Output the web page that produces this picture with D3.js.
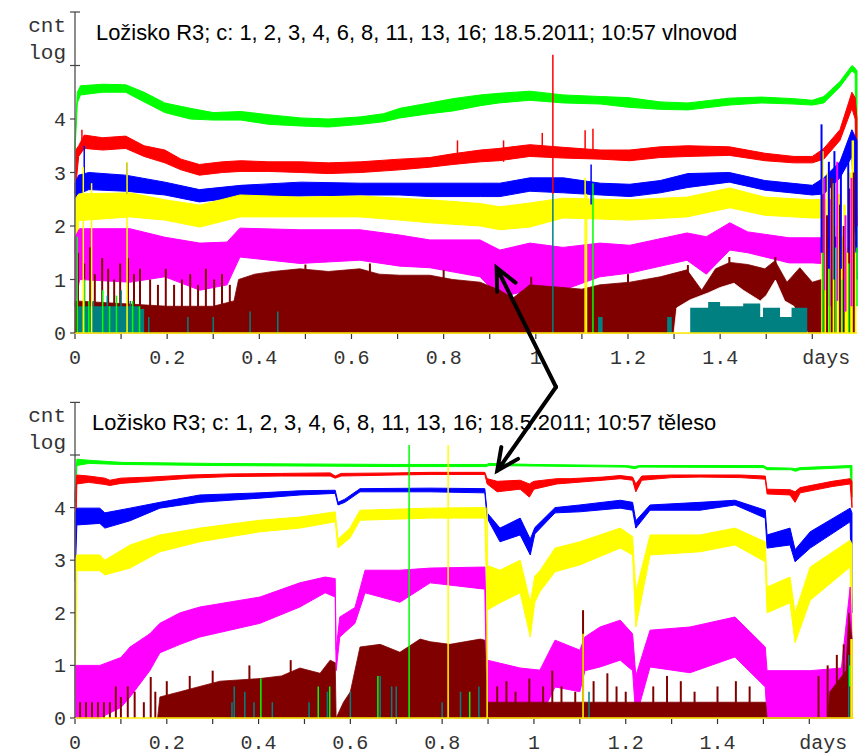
<!DOCTYPE html>
<html>
<head>
<meta charset="utf-8">
<script src="https://cdn.jsdelivr.net/npm/d3@7"></script>
<style>
  body { margin: 0; background: #fff; }
  svg { display: block; }
  .tick-label { font-family: 'Courier New', 'Liberation Mono', monospace; font-size: 20px; fill: #333; }
  .axis-name { font-family: 'Courier New', 'Liberation Mono', monospace; font-size: 21px; fill: #333; }
  .title { font-family: Arial, 'Liberation Sans', sans-serif; fill: #000; }
</style>
</head>
<body>
<div id="chart"></div>
<script>
// band series are [days, low, high] in log10(count); bar series are [days, high] from 0
const titleText = 'Ložisko R3; c: 1, 2, 3, 4, 6, 8, 11, 13, 16; 18.5.2011; 10:57 '
const panelNames = ['vlnovod', 'těleso']
const xTickLabels = ['0', '0.2', '0.4', '0.6', '0.8', '1', '1.2', '1.4', 'days']
const yTickLabels = ['0', '1', '2', '3', '4']

const colours = {
    green: '#00ff00', red: '#ff0000', blue: '#0000ff', yellow: '#ffff00',
    magenta: '#ff00ff', maroon: '#800000', teal: '#008080', white: '#ffffff'
}

// ---- top panel (vlnovod)
const topGreen = [[0, 3.4, 3.6], [0.005, 4.3, 4.5], [0.012, 4.45, 4.62], [0.06, 4.5, 4.65], [0.11, 4.5, 4.64], [0.15, 4.32, 4.5], [0.195, 4.12, 4.3], [0.25, 4.0, 4.2], [0.3, 3.98, 4.12], [0.36, 3.98, 4.14], [0.42, 3.9, 4.08], [0.49, 3.87, 4.02], [0.55, 3.85, 4.0], [0.62, 3.9, 4.04], [0.67, 3.95, 4.1], [0.705, 4.02, 4.2], [0.77, 4.1, 4.3], [0.82, 4.15, 4.38], [0.88, 4.25, 4.45], [0.92, 4.3, 4.48], [0.987, 4.35, 4.52], [1.06, 4.3, 4.45], [1.14, 4.28, 4.42], [1.2, 4.22, 4.4], [1.27, 4.18, 4.32], [1.33, 4.17, 4.3], [1.42, 4.26, 4.39], [1.49, 4.3, 4.41], [1.56, 4.28, 4.38], [1.6, 4.26, 4.35], [1.625, 4.3, 4.42], [1.66, 4.6, 4.7], [1.686, 4.9, 5.0], [1.693, 4.85, 4.95], [1.697, 1.5, 4.9]]
const topRed = [[0, 2.6, 3.4], [0.008, 3.3, 3.5], [0.02, 3.45, 3.7], [0.06, 3.42, 3.65], [0.11, 3.45, 3.68], [0.15, 3.3, 3.5], [0.195, 3.18, 3.42], [0.23, 3.05, 3.25], [0.27, 2.95, 3.15], [0.32, 3.0, 3.2], [0.36, 3.02, 3.22], [0.42, 3.02, 3.2], [0.49, 3.0, 3.2], [0.55, 2.98, 3.18], [0.62, 3.0, 3.2], [0.705, 3.05, 3.25], [0.77, 3.1, 3.28], [0.82, 3.15, 3.35], [0.88, 3.2, 3.42], [0.92, 3.22, 3.45], [0.987, 3.3, 3.52], [1.06, 3.27, 3.47], [1.14, 3.25, 3.42], [1.204, 3.22, 3.42], [1.27, 3.28, 3.48], [1.33, 3.3, 3.5], [1.42, 3.32, 3.48], [1.497, 3.22, 3.36], [1.56, 3.18, 3.3], [1.6, 3.18, 3.3], [1.625, 3.25, 3.45], [1.66, 3.6, 3.8], [1.686, 4.2, 4.5], [1.693, 4.0, 4.4], [1.697, 2.0, 4.0]]
const topBlue = [[0, 1.5, 2.8], [0.008, 2.6, 2.95], [0.03, 2.68, 3.0], [0.11, 2.65, 2.95], [0.195, 2.58, 2.82], [0.27, 2.45, 2.68], [0.36, 2.54, 2.76], [0.49, 2.56, 2.82], [0.62, 2.58, 2.8], [0.705, 2.58, 2.8], [0.77, 2.55, 2.8], [0.88, 2.55, 2.8], [0.922, 2.55, 2.8], [0.987, 2.65, 2.9], [1.06, 2.62, 2.9], [1.14, 2.58, 2.8], [1.204, 2.55, 2.78], [1.27, 2.62, 2.85], [1.33, 2.72, 2.98], [1.42, 2.82, 3.0], [1.497, 2.67, 2.85], [1.6, 2.58, 2.76], [1.625, 2.6, 2.9], [1.66, 2.9, 3.2], [1.686, 3.3, 3.8], [1.697, 1.0, 3.6]]
const topYellow = [[0, 0, 2.5], [0.008, 2.1, 2.6], [0.119, 2.17, 2.62], [0.195, 2.11, 2.49], [0.271, 1.98, 2.39], [0.358, 2.17, 2.58], [0.488, 2.17, 2.54], [0.618, 2.17, 2.56], [0.705, 2.11, 2.52], [0.77, 2.06, 2.49], [0.879, 2.0, 2.42], [0.922, 1.93, 2.36], [0.987, 1.98, 2.43], [1.059, 2.15, 2.52], [1.139, 2.13, 2.5], [1.204, 2.11, 2.49], [1.328, 2.17, 2.54], [1.421, 2.34, 2.71], [1.497, 2.2, 2.54], [1.6, 2.15, 2.49], [1.62, 2.15, 2.5]]
const topMagenta = [[0, 0.5, 1.8], [0.01, 1.0, 1.95], [0.119, 0.95, 1.95], [0.195, 1.05, 1.79], [0.271, 0.8, 1.68], [0.33, 0.9, 1.7], [0.358, 1.42, 1.96], [0.488, 1.3, 1.93], [0.618, 1.36, 1.93], [0.705, 1.25, 1.83], [0.77, 1.22, 1.74], [0.879, 1.05, 1.74], [0.922, 0.67, 1.55], [0.987, 0.8, 1.68], [1.059, 0.8, 1.6], [1.139, 1.05, 1.68], [1.204, 1.12, 1.64], [1.328, 1.36, 1.87], [1.37, 1.1, 1.8], [1.421, 1.55, 2.06], [1.46, 1.5, 1.89], [1.55, 1.31, 1.78], [1.6, 1.31, 1.78], [1.62, 1.3, 1.78]]
const topMaroon = [[0, 0.6], [0.1, 0.55], [0.2, 0.5], [0.3, 0.5], [0.345, 0.6], [0.355, 1.0], [0.39, 1.1], [0.43, 1.15], [0.488, 1.2], [0.55, 1.15], [0.618, 1.2], [0.66, 1.1], [0.705, 1.08], [0.77, 1.08], [0.82, 1.0], [0.879, 0.95], [0.922, 0.8], [0.95, 0.65], [0.987, 0.9], [1.059, 0.85], [1.1, 0.82], [1.139, 0.9], [1.204, 0.95], [1.27, 1.05], [1.328, 1.18], [1.36, 0.8], [1.39, 1.2], [1.421, 1.32], [1.46, 1.28], [1.497, 1.2], [1.519, 1.35], [1.545, 0.95], [1.573, 1.22], [1.6, 0.95], [1.62, 1.0]]
const topMaroonSpikes = [[0.0065, 1.5], [0.02, 1.3], [0.033, 1.6], [0.043, 1.1], [0.059, 1.4], [0.072, 1.2], [0.085, 1.0], [0.098, 1.3], [0.115, 1.4], [0.128, 1.1], [0.141, 1.2], [0.163, 1.0], [0.18, 0.9], [0.197, 1.2], [0.215, 0.9], [0.232, 1.0], [0.25, 1.1], [0.267, 0.9], [0.284, 1.2], [0.302, 1.0], [0.319, 1.1], [0.336, 0.9], [0.354, 0.8], [0.5, 1.28], [0.64, 1.3], [0.8, 1.18], [0.99, 1.05], [1.2, 1.1], [1.33, 1.27], [1.42, 1.42], [1.52, 1.42]]
const topWhite = [[1.3, 0], [1.306, 0.47], [1.335, 0.62], [1.374, 0.75], [1.4, 0.85], [1.43, 0.93], [1.45, 0.8], [1.487, 0.6], [1.5, 0.7], [1.52, 0.99], [1.54, 0.6], [1.56, 0.5], [1.59, 0]]
const topTeal = [[0.005, 0.5], [0.14, 0.45], [0.15, 0], [1.13, 0], [1.135, 0.3], [1.145, 0], [1.28, 0], [1.285, 0.3], [1.295, 0], [1.335, 0.47], [1.374, 0.58], [1.4, 0.5], [1.45, 0.55], [1.487, 0.3], [1.493, 0.47], [1.53, 0.3], [1.555, 0.47], [1.589, 0]]
const topTealSpikes = [[0.02, 0, 0.9], [0.04, 0, 0.6], [0.07, 0, 0.7], [0.1, 0, 0.8], [0.12, 0, 0.6], [0.16, 0, 0.3], [0.245, 0, 0.3], [0.3, 0, 0.3], [0.38, 0, 0.4], [0.44, 0, 0.4], [1.037, 0, 2.6]]
const topGreenSpikes = [[0.005, 0, 1.8], [0.02, 0, 1.0], [0.03, 0, 0.6], [0.06, 0, 0.8], [0.075, 0, 0.5], [0.09, 0, 0.7], [0.125, 0, 0.6], [0.14, 0, 0.5], [1.124, 0, 2.8]]
const topRedSpikes = [[0.015, 3.4, 3.8], [0.83, 3.3, 3.6], [0.93, 3.2, 3.6], [1.014, 3.3, 3.74], [1.037, 2.6, 5.2], [1.107, 3.3, 3.79], [1.124, 3.3, 3.82]]
const topBlueSpikes = [[0.02, 2.7, 3.5], [0.113, 2.6, 3.18], [1.12, 2.4, 3.15]]
const topYellowSpikes = [[0.018, 0, 3.1], [0.036, 0, 2.8], [0.113, 0, 3.2], [1.107, 0, 2.9], [1.11, 0, 2.6]]
// right-hand end of the top panel, where every channel jumps
const topEndYellow = [[1.622, 0, 3.4], [1.628, 0, 2.5], [1.634, 0, 3.0], [1.64, 0, 2.2], [1.646, 0, 2.8], [1.652, 0, 2.0], [1.658, 0, 2.6], [1.664, 0, 1.8], [1.67, 0, 2.4], [1.676, 0, 1.6], [1.682, 0, 3.0], [1.688, 0, 3.6], [1.692, 0, 1.5]]
const topEndYellowFill = [[1.668, 1.0], [1.695, 1.5]]
const topEndMaroon = [[1.624, 0, 2.6], [1.632, 0, 2.2], [1.642, 0, 2.9], [1.65, 0, 1.8], [1.66, 0, 2.4], [1.668, 0, 2.0], [1.68, 0, 2.7], [1.69, 0, 3.0]]
const topEndMagenta = [[1.626, 0.8, 2.9], [1.638, 0.5, 2.5], [1.654, 0.6, 3.2], [1.672, 0.4, 2.2], [1.685, 0.5, 2.9]]
const topEndBlue = [[1.62, 1.5, 3.9], [1.636, 1.2, 3.2], [1.648, 1.0, 3.4], [1.662, 1.2, 3.0], [1.678, 1.5, 3.3]]
const topEndGreen = [[1.623, 0, 1.5], [1.637, 0, 1.2], [1.651, 0, 1.6], [1.665, 0, 1.0], [1.679, 0, 1.3], [1.697, 0.5, 1.6]]

// ---- bottom panel (těleso)
const botGreen = [[0, 4.1, 4.2], [0.004, 4.8, 4.92], [0.03, 4.84, 4.9], [0.1, 4.82, 4.86], [0.3, 4.8, 4.84], [0.5, 4.79, 4.83], [0.7, 4.78, 4.82], [0.898, 4.78, 4.82], [0.9, 4.8, 4.84], [1.0, 4.79, 4.82], [1.2, 4.77, 4.8], [1.22, 4.74, 4.78], [1.23, 4.77, 4.8], [1.5, 4.76, 4.8], [1.508, 4.72, 4.76], [1.56, 4.72, 4.75], [1.57, 4.69, 4.74], [1.58, 4.72, 4.76], [1.689, 4.76, 4.8], [1.693, 4.2, 4.8]]
const botRed = [[0, 2.8, 4.3], [0.004, 4.45, 4.62], [0.03, 4.48, 4.6], [0.065, 4.44, 4.56], [0.076, 4.42, 4.52], [0.1, 4.46, 4.56], [0.163, 4.5, 4.58], [0.25, 4.56, 4.62], [0.338, 4.59, 4.64], [0.45, 4.6, 4.65], [0.556, 4.6, 4.66], [0.567, 4.56, 4.6], [0.58, 4.6, 4.65], [0.7, 4.62, 4.66], [0.774, 4.63, 4.67], [0.893, 4.63, 4.67], [0.898, 4.45, 4.55], [0.92, 4.3, 4.5], [0.97, 4.35, 4.52], [0.99, 4.2, 4.45], [1.0, 4.35, 4.5], [1.05, 4.45, 4.55], [1.079, 4.47, 4.55], [1.15, 4.52, 4.58], [1.188, 4.55, 4.61], [1.215, 4.52, 4.58], [1.222, 4.3, 4.45], [1.235, 4.52, 4.6], [1.3, 4.57, 4.62], [1.362, 4.58, 4.62], [1.45, 4.57, 4.62], [1.504, 4.54, 4.6], [1.508, 4.26, 4.35], [1.558, 4.24, 4.34], [1.569, 4.1, 4.3], [1.58, 4.28, 4.38], [1.65, 4.4, 4.5], [1.689, 4.45, 4.55], [1.693, 4.0, 4.5]]
const botBlue = [[0, 2.6, 3.9], [0.004, 3.67, 3.99], [0.054, 3.7, 3.99], [0.065, 3.61, 3.9], [0.12, 3.75, 3.99], [0.185, 3.99, 4.1], [0.272, 4.1, 4.24], [0.403, 4.18, 4.28], [0.49, 4.24, 4.32], [0.567, 4.27, 4.33], [0.573, 4.05, 4.1], [0.588, 4.1, 4.16], [0.621, 4.3, 4.36], [0.774, 4.3, 4.37], [0.893, 4.28, 4.36], [0.898, 3.8, 3.9], [0.926, 3.35, 3.61], [0.97, 3.48, 3.8], [0.992, 3.1, 3.4], [1.002, 3.5, 3.62], [1.046, 3.9, 4.0], [1.1, 3.92, 4.05], [1.188, 3.99, 4.14], [1.215, 3.95, 4.1], [1.222, 3.61, 3.75], [1.253, 3.95, 4.05], [1.362, 3.95, 4.1], [1.438, 4.05, 4.14], [1.504, 3.8, 3.95], [1.508, 3.23, 3.48], [1.558, 3.29, 3.61], [1.569, 2.97, 3.2], [1.602, 3.23, 3.54], [1.689, 3.73, 3.99], [1.693, 2.0, 3.9]]
const botYellow = [[0, 0, 3.0], [0.004, 2.8, 3.1], [0.054, 2.8, 3.1], [0.065, 2.72, 3.0], [0.12, 2.85, 3.29], [0.185, 3.16, 3.48], [0.272, 3.35, 3.61], [0.403, 3.54, 3.76], [0.49, 3.61, 3.82], [0.567, 3.73, 3.92], [0.573, 3.23, 3.4], [0.599, 3.42, 3.61], [0.621, 3.76, 3.95], [0.774, 3.8, 3.99], [0.893, 3.8, 4.0], [0.898, 2.05, 2.9], [0.926, 2.19, 2.81], [0.97, 2.38, 3.0], [0.992, 1.54, 2.2], [1.002, 2.2, 2.7], [1.013, 2.4, 2.8], [1.046, 2.78, 3.23], [1.1, 2.91, 3.35], [1.188, 3.23, 3.61], [1.215, 3.1, 3.45], [1.222, 1.73, 2.4], [1.253, 3.1, 3.48], [1.362, 3.16, 3.48], [1.438, 3.29, 3.61], [1.504, 2.97, 3.35], [1.508, 2.0, 2.49], [1.558, 2.19, 2.68], [1.569, 1.43, 2.0], [1.602, 2.24, 2.87], [1.689, 2.87, 3.38], [1.693, 0, 3.3]]
const botMagenta = [[0, 0, 1.0], [0.054, 0, 1.0], [0.1, 0.2, 1.15], [0.12, 0.4, 1.35], [0.163, 0.9, 1.6], [0.185, 1.24, 1.8], [0.229, 1.4, 2.0], [0.272, 1.54, 2.11], [0.403, 1.8, 2.3], [0.49, 2.11, 2.57], [0.545, 2.38, 2.68], [0.567, 2.3, 2.65], [0.569, 0.9, 1.3], [0.577, 1.54, 1.92], [0.61, 1.8, 2.1], [0.632, 2.38, 2.81], [0.708, 2.2, 2.81], [0.774, 2.57, 2.85], [0.893, 2.45, 2.87], [0.898, 0, 1.1], [0.97, 0, 0.95], [1.013, 0, 0.91], [1.046, 0.59, 1.48], [1.1, 0.5, 1.29], [1.111, 0.9, 1.54], [1.144, 0.97, 1.73], [1.188, 1.1, 1.86], [1.215, 0.9, 1.6], [1.222, 0, 0.8], [1.253, 0.97, 1.67], [1.34, 0.86, 1.73], [1.438, 1.16, 1.92], [1.504, 0.59, 1.35], [1.508, 0, 0.9], [1.602, 0, 0.9], [1.67, 0, 0.95], [1.689, 0, 2.49], [1.693, 0, 1.5]]
const botMaroon = [[0.18, 0], [0.185, 0.4], [0.229, 0.5], [0.272, 0.6], [0.316, 0.7], [0.403, 0.75], [0.45, 0.8], [0.49, 0.95], [0.534, 0.85], [0.556, 1.1], [0.567, 1.05], [0.569, 0], [0.585, 0.3], [0.6, 0.5], [0.621, 1.35], [0.665, 1.4], [0.708, 1.25], [0.752, 1.5], [0.774, 1.45], [0.817, 1.4], [0.883, 1.5], [0.893, 1.48], [0.898, 0.3], [1.505, 0.3], [1.508, 0], [1.64, 0], [1.645, 0.5], [1.68, 0.9], [1.686, 2.0], [1.693, 1.5]]
const botMaroonSpikes = [[0.011, 0.3], [0.024, 0.3], [0.037, 0.3], [0.05, 0.3], [0.063, 0.3], [0.076, 0.3], [0.089, 0.6], [0.1, 0.4], [0.115, 0.6], [0.13, 0.5], [0.15, 0.3], [0.165, 0.78], [0.175, 0.5], [0.2, 0.7], [0.25, 0.8], [0.3, 0.9], [0.38, 1.0], [0.47, 1.1], [0.92, 0.6], [0.94, 0.7], [0.96, 0.5], [0.99, 0.75], [1.02, 0.6], [1.04, 0.9], [1.06, 0.6], [1.09, 0.5], [1.107, 2.05], [1.13, 0.7], [1.16, 0.85], [1.18, 0.6], [1.2, 0.5], [1.26, 0.6], [1.29, 0.8], [1.32, 0.7], [1.35, 0.5], [1.4, 0.6], [1.44, 0.7], [1.47, 0.6], [1.62, 0.8], [1.64, 1.0], [1.66, 1.2], [1.675, 1.4]]
const botTealSpikes = [[0.342, 0, 0.3], [0.347, 0, 0.6], [0.37, 0, 0.5], [0.39, 0, 0.3], [0.43, 0, 0.3], [0.51, 0, 0.3], [0.55, 0, 0.5], [0.6, 0, 0.5], [0.665, 0, 0.8], [0.69, 0, 0.6], [0.7, 0, 0.6], [0.8, 0, 0.3], [0.84, 0, 0.5], [0.88, 0, 0.6], [1.12, 0, 0.5], [1.686, 0, 1.2]]
const botGreenSpikes = [[0.405, 0, 0.75], [0.53, 0, 0.6], [0.555, 0, 0.6], [0.66, 0, 0.8], [0.728, 0, 5.19], [0.86, 0, 0.5], [1.688, 0.6, 1.0]]
const botYellowSpikes = [[0.813, 0, 5.19], [0.898, 0, 4.0], [1.107, 0, 1.6], [1.691, 0, 1.5], [1.693, 0, 1.5]]

const width = 862
const height = 756

const svg = d3.select('#chart').append('svg')
    .attr('width', width)
    .attr('height', height)

svg.append('rect').attr('width', width).attr('height', height).attr('fill', '#fff')

let panels = [
    { name: panelNames[0], xr: [75, 812.3], yr: [333, 12], titleY: 40, titleX: 96, cntY: 32 },
    { name: panelNames[1], xr: [75, 809.3], yr: [718, 402.4], titleY: 430, titleX: 92, cntY: 422 }
]

panels.forEach(p => {
    p.x = d3.scaleLinear().domain([0, 1.6]).range(p.xr)
    p.y = d3.scaleLinear().domain([0, 6]).range(p.yr)
    p.g = svg.append('g')
})

let bandArea = (p) => d3.area()
    .x(d => p.x(d[0]))
    .y0(d => p.y(d[1]))
    .y1(d => p.y(d[2]))

let barArea = (p) => d3.area()
    .x(d => p.x(d[0]))
    .y0(p.y(0))
    .y1(d => p.y(d[1]))

let drawBand = (p, data, col) => {
    p.g.append('path')
        .datum(data)
        .attr('d', bandArea(p))
        .attr('fill', colours[col])
        .attr('stroke', colours[col])
        .attr('stroke-width', 1)
}

let drawBars = (p, data, col) => {
    p.g.append('path')
        .datum(data)
        .attr('d', barArea(p))
        .attr('fill', colours[col])
        .attr('stroke', colours[col])
        .attr('stroke-width', 0.8)
}

let drawSpikes = (p, data, col, w) => {
    p.g.append('g').selectAll('line')
        .data(data)
        .enter().append('line')
        .attr('x1', d => p.x(d[0]))
        .attr('x2', d => p.x(d[0]))
        .attr('y1', d => p.y(d.length > 2 ? d[1] : 0))
        .attr('y2', d => p.y(d.length > 2 ? d[2] : d[1]))
        .attr('stroke', colours[col])
        .attr('stroke-width', w || 1.5)
}

// top panel
let pt = panels[0]
drawBand(pt, topGreen, 'green')
drawBand(pt, topRed, 'red')
drawBand(pt, topBlue, 'blue')
drawBand(pt, topYellow, 'yellow')
drawBand(pt, topMagenta, 'magenta')
drawBars(pt, topMaroon, 'maroon')
drawSpikes(pt, topMaroonSpikes, 'maroon', 2)
drawBars(pt, topWhite, 'white')
pt.g.append('path')
    .datum(topTeal)
    .attr('d', barArea(pt).curve(d3.curveStepAfter))
    .attr('fill', colours.teal)
drawSpikes(pt, topTealSpikes, 'teal')
drawSpikes(pt, topGreenSpikes, 'green')
drawSpikes(pt, topRedSpikes, 'red')
drawSpikes(pt, topBlueSpikes, 'blue')
drawSpikes(pt, topYellowSpikes, 'yellow')
drawBars(pt, topEndYellowFill, 'yellow')
drawSpikes(pt, topEndYellow, 'yellow', 2.5)
drawSpikes(pt, topEndMaroon, 'maroon', 2)
drawSpikes(pt, topEndMagenta, 'magenta', 2)
drawSpikes(pt, topEndBlue, 'blue', 2)
drawSpikes(pt, topEndGreen, 'green', 1.5)

// bottom panel
let pb = panels[1]
drawBand(pb, botGreen, 'green')
drawBand(pb, botRed, 'red')
drawBand(pb, botBlue, 'blue')
drawBand(pb, botYellow, 'yellow')
drawBand(pb, botMagenta, 'magenta')
drawBars(pb, botMaroon, 'maroon')
drawSpikes(pb, botMaroonSpikes, 'maroon', 2)
drawSpikes(pb, botTealSpikes, 'teal')
drawSpikes(pb, botGreenSpikes, 'green')
drawSpikes(pb, botYellowSpikes, 'yellow')

// axes, labels, titles
panels.forEach(p => {
    let x0 = p.x(0)
    p.g.append('line')
        .attr('x1', x0).attr('x2', p.x(1.697))
        .attr('y1', p.y(0)).attr('y2', p.y(0))
        .attr('stroke', '#ffee00').attr('stroke-width', 1.5)
    p.g.append('line')
        .attr('x1', x0).attr('x2', x0)
        .attr('y1', p.y(0)).attr('y2', p.y(6))
        .attr('stroke', '#666').attr('stroke-width', 1.5)
    p.g.selectAll('.ytick')
        .data(d3.range(0, 7))
        .enter().append('line')
        .attr('x1', x0 - 5)
        .attr('x2', d => d >= 5 ? x0 + 5 : x0)
        .attr('y1', d => p.y(d)).attr('y2', d => p.y(d))
        .attr('stroke', '#444').attr('stroke-width', 1.2)
    p.g.selectAll('.ylab')
        .data(yTickLabels)
        .enter().append('text')
        .attr('class', 'tick-label')
        .attr('x', x0 - 9)
        .attr('y', (d, i) => p.y(i) + 7)
        .attr('text-anchor', 'end')
        .text(d => d)
    p.g.selectAll('.xtick')
        .data(d3.range(0, 17))
        .enter().append('line')
        .attr('x1', d => p.x(d / 10)).attr('x2', d => p.x(d / 10))
        .attr('y1', p.y(0) + 1).attr('y2', p.y(0) + 6)
        .attr('stroke', '#333').attr('stroke-width', 1.2)
    p.g.selectAll('.xlab')
        .data(xTickLabels)
        .enter().append('text')
        .attr('class', 'tick-label')
        .attr('x', (d, i) => p.x(i * 0.2) + (d === 'days' ? 14 : 0))
        .attr('y', p.y(0) + 31)
        .attr('text-anchor', 'middle')
        .text(d => d)
    p.g.append('text').attr('class', 'axis-name')
        .attr('x', 66).attr('y', p.cntY).attr('text-anchor', 'end').text('cnt')
    p.g.append('text').attr('class', 'axis-name')
        .attr('x', 66).attr('y', p.cntY + 27).attr('text-anchor', 'end').text('log')
    p.title = p.g.append('text').attr('class', 'title')
        .attr('x', p.titleX).attr('y', p.titleY)
        .style('font-size', '20px')
        .text(titleText + p.name)
})

// fit title size to the reference width
let tw = panels[0].title.node().getComputedTextLength()
let fs = 20 * 642 / tw
panels.forEach(p => p.title.style('font-size', fs + 'px'))

// double arrow between the panels
let joint = [556, 387]
let tips = [[pt.x(0.915), pt.y(1.22)], [pb.x(0.92), pb.y(4.7)]]
tips.forEach(t => {
    let dx = joint[0] - t[0]
    let dy = joint[1] - t[1]
    let len = Math.hypot(dx, dy)
    let ux = dx / len
    let uy = dy / len
    let barb = (ang) => {
        let c = Math.cos(ang)
        let s = Math.sin(ang)
        return [t[0] + 24 * (ux * c - uy * s), t[1] + 24 * (ux * s + uy * c)]
    }
    let b1 = barb(0.44)
    let b2 = barb(-0.44)
    svg.append('path')
        .attr('d', 'M' + joint + 'L' + t + 'M' + b1 + 'L' + t + 'L' + b2)
        .attr('fill', 'none')
        .attr('stroke', '#000')
        .attr('stroke-width', 4)
        .attr('stroke-linecap', 'round')
        .attr('stroke-linejoin', 'miter')
})
</script>
</body>
</html>
